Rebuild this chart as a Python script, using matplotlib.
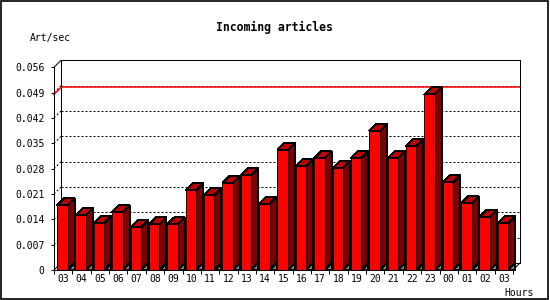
import matplotlib
matplotlib.use('Agg')
import matplotlib.pyplot as plt
from matplotlib.patches import Rectangle, Polygon

plt.rcParams['font.family'] = 'DejaVu Sans Mono'

hours = ['03', '04', '05', '06', '07', '08', '09', '10', '11', '12', '13', '14', '15',
         '16', '17', '18', '19', '20', '21', '22', '23', '00', '01', '02', '03']
rate = [0.0179, 0.0151, 0.0129, 0.0160, 0.0118, 0.0126, 0.0126, 0.0220, 0.0207,
        0.0240, 0.0262, 0.0182, 0.0332, 0.0287, 0.0309, 0.0281, 0.0309, 0.0384,
        0.0309, 0.0342, 0.0485, 0.0242, 0.0184, 0.0146, 0.0129]
yticks = [0, 0.007, 0.014, 0.021, 0.028, 0.035, 0.042, 0.049, 0.056]

W, H = 550, 300
ymax = 0.056
n = len(hours)
depth = 7  # px, 3d offset
px = 0.72  # one pixel in points

fig = plt.figure(figsize=(W / 100, H / 100), dpi=100)
ax_w, ax_h = 459, 202.7
ax = fig.add_axes([54 / W, 30 / H, ax_w / W, ax_h / H])
ax.set_xlim(0, n)
ax.set_ylim(0, ymax)
ax.set_facecolor('none')
for s in ['top', 'right']:
    ax.spines[s].set_visible(False)
for s in ['left', 'bottom']:
    ax.spines[s].set_linewidth(px)

dx = depth * n / ax_w
dy = depth * ymax / ax_h

# back wall
ax.add_patch(Rectangle((dx, dy), n, ymax, fc='white', ec='black', lw=px,
                       clip_on=False, zorder=0.5, antialiased=False))
for (x0, y0), (x1, y1) in [((0, ymax), (dx, ymax + dy)), ((0, 0), (dx, dy)),
                           ((n, 0), (n + dx, dy))]:
    ax.plot([x0, x1], [y0, y1], color='black', lw=px, clip_on=False, zorder=0.6)

# dotted grid on the back wall
for v in yticks[1:-1]:
    ax.plot([dx, n + dx], [v + dy, v + dy], color='black', lw=px,
            ls=(0, (2, 2)), clip_on=False, zorder=0.7)
    ax.plot([0, dx], [v, v + dy], color='black', lw=px,
            ls=(0, (2, 2)), clip_on=False, zorder=0.7)

# peak line
peak = max(rate)
ax.plot([dx, n + dx], [peak + dy, peak + dy], color='#ff0000', lw=1.1,
        solid_capstyle='butt', clip_on=False, zorder=1.5)
ax.plot([0, dx], [peak, peak + dy], color='#ff0000', lw=1.1,
        clip_on=False, zorder=1.5)

bw = 0.57
for i, v in enumerate(rate):
    x0 = i + 0.17
    x1 = x0 + bw
    kw = dict(ec='black', lw=px, zorder=2, clip_on=False, antialiased=False)
    ax.add_patch(Polygon([(x1, 0), (x1 + dx, dy), (x1 + dx, 0)], fc='#808080', **kw))
    ax.add_patch(Polygon([(x1, 0), (x1, v), (x1 + dx, v + dy), (x1 + dx, dy)],
                         fc='#800000', **kw))
    ax.add_patch(Polygon([(x0, v), (x1, v), (x1 + dx, v + dy), (x0 + dx, v + dy)],
                         fc='#c00000', **kw))
    ax.add_patch(Rectangle((x0, 0), bw, v, fc='#ff0000', **kw))

ax.set_yticks(yticks)
ax.set_yticklabels(['0' if v == 0 else '%.3f' % v for v in yticks])
ax.tick_params(axis='y', direction='out', length=2.5, width=px, pad=4.5, labelsize=7)

ax.set_xticks(range(n + 1))
ax.set_xticklabels([''] * (n + 1))
ax.set_xticks([i + 0.5 for i in range(n)], minor=True)
ax.set_xticklabels(hours, minor=True)
ax.tick_params(axis='x', which='major', direction='out', length=3, width=px)
ax.tick_params(axis='x', which='minor', length=0, pad=3, labelsize=7)

fig.text(274 / W, 1 - 31 / H, 'Incoming articles', ha='center', va='baseline',
         fontsize=8.3, fontweight='bold')
fig.text(30 / W, 1 - 41 / H, 'Art/sec', ha='left', va='baseline', fontsize=7)
fig.text(534 / W, 1 - 296 / H, 'Hours', ha='right', va='baseline', fontsize=7)

fig.add_artist(Rectangle((0.75 / W, 1.5 / H), 547.5 / W, 297.5 / H,
                         transform=fig.transFigure, fill=False, ec='black', lw=1.2))

fig.savefig('out.png', dpi=100)
